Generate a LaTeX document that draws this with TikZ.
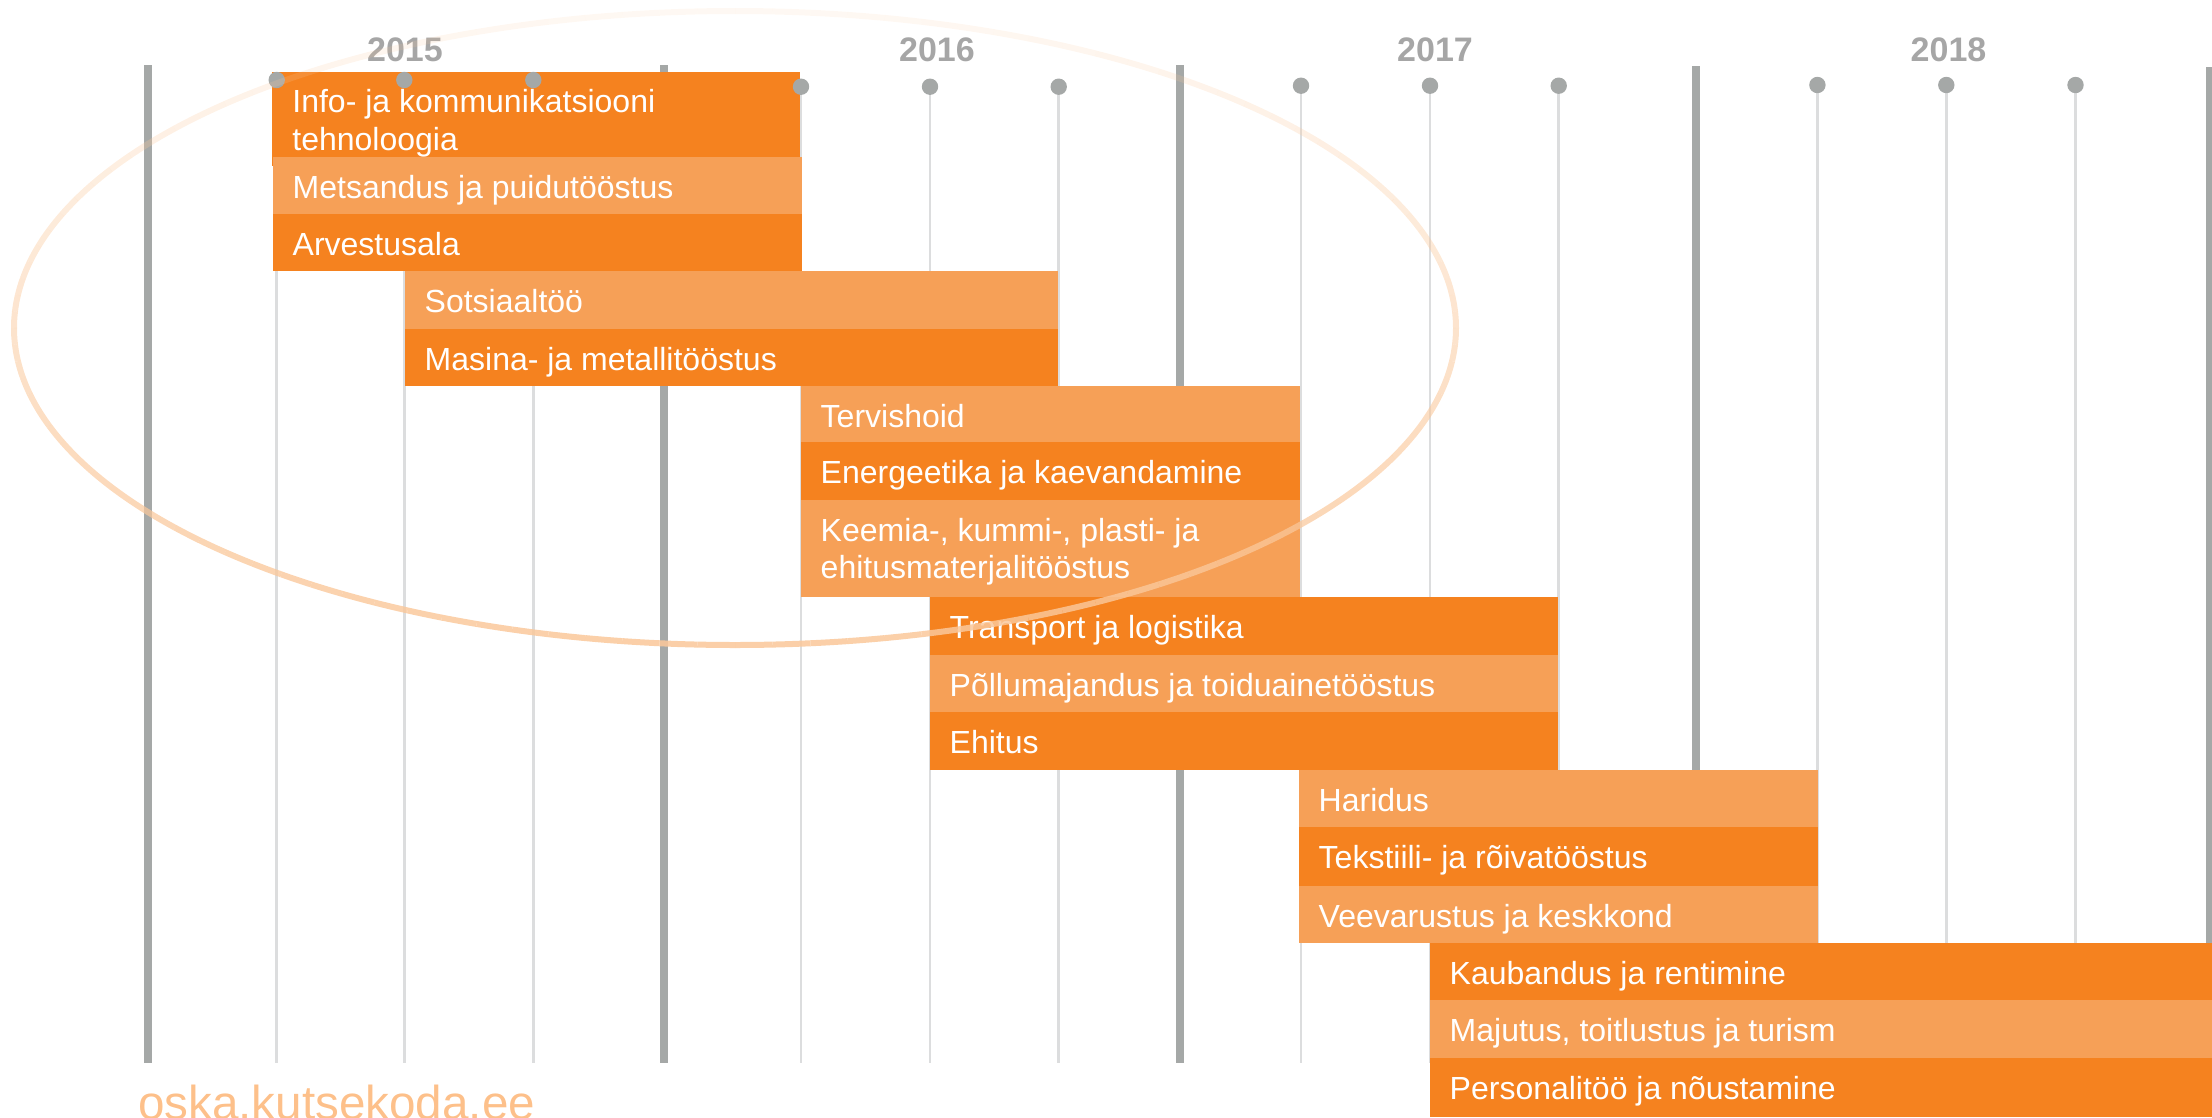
\documentclass[tikz,border=0pt]{standalone}
\usepackage{fontspec}
\setmainfont{Liberation Sans}
\definecolor{darkbar}{HTML}{F5821F}
\definecolor{lightbar}{HTML}{F6A057}
\definecolor{axisc}{HTML}{A5A8A7}
\definecolor{minorc}{HTML}{DCDDDE}
\definecolor{yearc}{HTML}{A6A6A6}
\definecolor{urlc}{HTML}{FDC08A}
\definecolor{ellc}{RGB}{250,200,155}
\newcommand{\gbar}[7]{%
  \node[#2, minimum width=#5pt, minimum height=#6pt] (#1) at (#3,#4) {};
  \node[lbl] (#1-t) at ([xshift=19.5pt,yshift=-41.5pt]#1.north west) {#7};}
\begin{document}
\begin{tikzpicture}[x=1pt,y=-1pt,
  bar/.style={draw=none, inner sep=0pt, outer sep=0pt, anchor=north west},
  dbar/.style={bar, fill=darkbar},
  lbar/.style={bar, fill=lightbar},
  lbl/.style={anchor=base west, inner sep=0pt, text=white, font=\fontsize{32}{37.3}\selectfont},
  yearlbl/.style={anchor=base, inner sep=0pt, text=yearc, font=\bfseries\fontsize{34}{40}\selectfont},
  majorline/.style={line width=8pt, draw=axisc},
  minorline/.style={line width=2.5pt, draw=minorc},
  dotnode/.style={circle, fill=axisc, minimum size=16.4pt, inner sep=0pt},
  ellline/.style={line width=6pt, draw=ellc}]
\useasboundingbox (0,0) rectangle (2212,1117);

% major (year) lines
\foreach \n/\x/\t in {1/147.5/65, 2/664/65, 3/1180/65, 4/1696/66, 5/2210/67}{
  \coordinate (M\n t) at (\x,\t);
  \coordinate (M\n b) at (\x,1062.7);
  \draw[majorline] (M\n t) -- (M\n b);
}
% minor (quarter) lines
\foreach \n/\x/\y in {a/276.7/80, b/404.3/80, c/533.3/80,
                      d/801/86.7, e/930/86.7, f/1058.7/86.7,
                      g/1301/85.7, h/1430/85.7, i/1558.7/85.7,
                      j/1817.4/85, k/1946.3/85, l/2075.5/85}{
  \coordinate (Q\n) at (\x,\y);
  \coordinate (Q\n b) at (\x,1062.7);
  \draw[minorline] (Q\n) -- (Q\n b);
}

% bars
\node[dbar, minimum width=528.3pt, minimum height=94.3pt] (b1) at (271.7,71.7) {};
\node[lbl] (b1-t) at ([xshift=20.5pt,yshift=-41pt]b1.north west)
  {\vtop{\hbox{Info- ja kommunikatsiooni}\hbox{tehnoloogia}}};
\gbar{b2}{lbar}{273}{156.7}{528.7}{57.3}{Metsandus ja puidutööstus}
\gbar{b3}{dbar}{273}{214}{528.7}{57.3}{Arvestusala}
\gbar{b4}{lbar}{405}{271.3}{653}{57.2}{Sotsiaaltöö}
\gbar{b5}{dbar}{405}{328.5}{653}{57.2}{Masina- ja metallitööstus}
\gbar{b6}{lbar}{801}{385.7}{499}{56}{Tervishoid}
\gbar{b7}{dbar}{801}{441.7}{499}{58.3}{Energeetika ja kaevandamine}
\node[lbar, minimum width=499pt, minimum height=97.3pt] (b8) at (801,500) {};
\node[lbl] (b8-t) at ([xshift=19.5pt,yshift=-41pt]b8.north west)
  {\vtop{\hbox{Keemia-, kummi-, plasti- ja}\hbox{ehitusmaterjalitööstus}}};
\gbar{b9}{dbar}{930}{597.3}{628}{57.7}{Transport ja logistika}
\gbar{b10}{lbar}{930}{655}{628}{56.7}{Põllumajandus ja toiduainetööstus}
\gbar{b11}{dbar}{930}{711.7}{628}{58.3}{Ehitus}
\gbar{b12}{lbar}{1299}{770}{519}{56.7}{Haridus}
\gbar{b13}{dbar}{1299}{826.7}{519}{59}{Tekstiili- ja rõivatööstus}
\gbar{b14}{lbar}{1299}{885.7}{519}{57.6}{Veevarustus ja keskkond}
\gbar{b15}{dbar}{1430}{943.3}{782}{57}{Kaubandus ja rentimine}
\gbar{b16}{lbar}{1430}{1000.3}{782}{57.7}{Majutus, toitlustus ja turism}
\gbar{b17}{dbar}{1430}{1058}{782}{59}{Personalitöö ja nõustamine}

% quarter dots
\foreach \n in {a,b,c,d,e,f,g,h,i,j,k,l}{
  \node[dotnode] (D\n) at (Q\n) {};
}

% year labels
\node[yearlbl] (y2015) at (405,61.7) {2015};
\node[yearlbl] (y2016) at (937,61.7) {2016};
\node[yearlbl] (y2017) at (1435,61.7) {2017};
\node[yearlbl] (y2018) at (1948.5,61.7) {2018};

% url
\node[anchor=base west, inner sep=0pt, text=urlc, font=\fontsize{47.6}{52}\selectfont] (url) at (138,1119) {oska.kutsekoda.ee};

% highlight ellipse, fading towards the top
\foreach \a in {0,3,...,357}{
  \pgfmathsetmacro{\op}{0.12+0.75*(1+sin(\a+1.5))/2}
  \draw[ellline, opacity=\op] ({735+721*cos(\a)},{328+317*sin(\a)})
    arc[start angle=\a, end angle=\a+3, x radius=721, y radius=317];
}
\end{tikzpicture}
\end{document}
